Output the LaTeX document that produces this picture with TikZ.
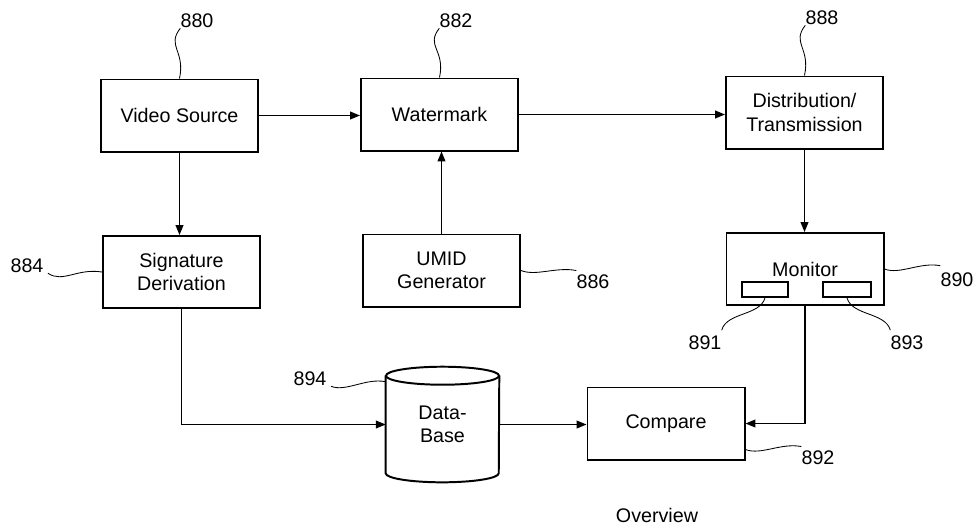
\documentclass[tikz,border=0pt]{standalone}
\usepackage{fontspec}
\setmainfont{Liberation Sans}
\usetikzlibrary{arrows.meta}
\tikzset{
  block/.style={draw, line width=1.4pt, minimum width=3.925cm, minimum height=1.8cm, align=center},
  slot/.style={draw, line width=1.2pt, minimum height=0.375cm, inner sep=0pt},
  tag/.style={inner sep=0pt},
  leader/.style={line width=0.6pt},
  flow/.style={line width=1pt, -{Triangle[length=7pt,width=5.5pt]}}
}
\begin{document}
\begin{tikzpicture}[x=0.025cm, y=-0.025cm, font=\fontsize{14}{16.5}\selectfont]
  \useasboundingbox (0,0) rectangle (977,529);
  \begin{scope}[every node/.style={block}]
  \node (vs) at (179.5,115.5) {Video Source};
  \node (wm) at (439.5,114.5) {Watermark};
  \node (dist) at (804.5,112.5) {Distribution/\\Transmission};
  \node (sig) at (181.5,272) {Signature\\Derivation};
  \node (umid) at (441.5,270.5) {UMID\\Generator};
  \node (mon) at (805,269) {Monitor};
  \node (cmp) at (666,423.5) {Compare};
  \end{scope}
  \node[slot, minimum width=1.15cm] (mon1) at (765,289.5) {};
  \node[slot, minimum width=1.2cm] (mon2) at (847,289.5) {};
  \node[minimum width=2.825cm, minimum height=2.875cm, align=center] (db) at (442.5,424.5) {Data-\\Base};
  \draw[line width=1.4pt] ([yshift=-0.225cm]db.north west) -- ([yshift=0.225cm]db.south west)
    arc[start angle=180, end angle=360, x radius=1.4125cm, y radius=0.225cm] -- ([yshift=-0.225cm]db.north east);
  \draw[line width=1.4pt] ([yshift=-0.225cm]db.north) ellipse[x radius=1.4125cm, y radius=0.225cm];
  \begin{scope}[every node/.style={tag}]
  \node (l880) at (197,21) {880};
  \node (l882) at (456,21) {882};
  \node (l888) at (822,18) {888};
  \node (l884) at (27,266) {884};
  \node (l886) at (593,282) {886};
  \node (l890) at (957,280) {890};
  \node (l891) at (705,343) {891};
  \node (l893) at (907,343) {893};
  \node (l894) at (310,379) {894};
  \node (l892) at (818,458) {892};
  \node (cap) at (657,515) {Overview};
  \end{scope}
  \begin{scope}[every path/.style={leader}]
  \draw (l880.south west) .. controls +(-14,18) and +(6,-28) .. (vs.north);
  \draw (l882.south west) .. controls +(-14,18) and +(6,-28) .. (wm.north);
  \draw (l888.south west) .. controls +(-14,18) and +(6,-28) .. (dist.north);
  \draw ([xshift=3pt]l884.south east) .. controls +(15,10) and +(-25,-4) .. (sig.west);
  \draw (umid.east) .. controls +(15,6) and +(-20,-4) .. ([yshift=3pt]l886.north west);
  \draw (mon.east) .. controls +(15,6) and +(-20,-4) .. ([yshift=5pt]l890.north west);
  \draw ([yshift=0.275cm]cmp.south east) .. controls +(15,6) and +(-20,-4) .. ([yshift=3pt]l892.north west);
  \draw ([xshift=3pt]l894.south east) .. controls +(15,6) and +(-20,-4) .. ([yshift=-0.375cm]db.north west);
  \draw (mon1.south) .. controls +(-5,18) and +(5,-18) .. ([yshift=4pt]l891.north east);
  \draw (mon2.south) .. controls +(5,18) and +(-5,-18) .. ([yshift=4pt]l893.north west);
  \end{scope}
  \draw[flow] (vs.east) -- (vs.east -| wm.west);
  \draw[flow] (wm.east) -- (wm.east -| dist.west);
  \draw[flow] (vs.south) -- (vs.south |- sig.north);
  \draw[flow] (umid.north) -- (umid.north |- wm.south);
  \draw[flow] (dist.south) -- (dist.south |- mon.north);
  \draw[flow] (sig.south) |- (db.west);
  \draw[flow] (db.east) -- (db.east -| cmp.west);
  \draw[flow] (mon.south) |- (cmp.east);
\end{tikzpicture}
\end{document}
